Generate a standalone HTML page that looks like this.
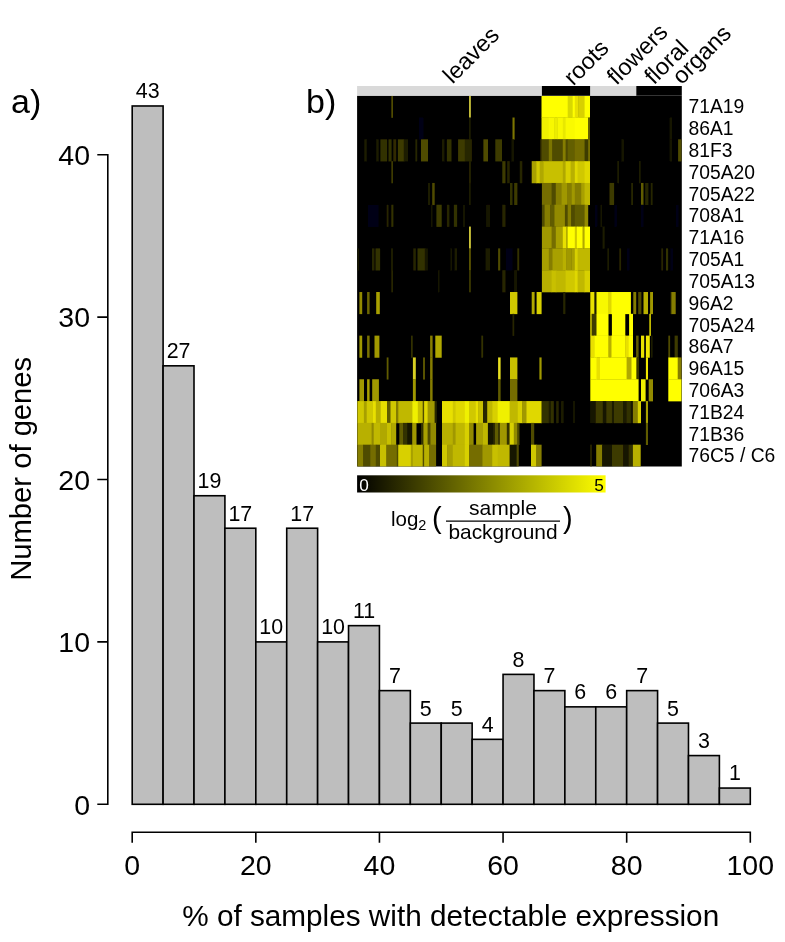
<!DOCTYPE html>
<html lang="en"><head><meta charset="utf-8"><title>Figure</title>
<style>
html,body{margin:0;padding:0;background:#fff;}
body{width:785px;height:942px;overflow:hidden;}
svg{display:block;}
text{font-family:"Liberation Sans", Arial, Helvetica, sans-serif;fill:#000;}
</style></head><body>
<svg width="785" height="942" viewBox="0 0 785 942">
<rect x="0" y="0" width="785" height="942" fill="#fff"/>

<g fill="#bebebe" stroke="#000" stroke-width="1.6" stroke-linejoin="miter">
<rect x="132.20" y="105.98" width="30.90" height="698.32"/>
<rect x="163.10" y="365.82" width="30.90" height="438.48"/>
<rect x="194.01" y="495.74" width="30.90" height="308.56"/>
<rect x="224.91" y="528.22" width="30.90" height="276.08"/>
<rect x="255.82" y="641.90" width="30.90" height="162.40"/>
<rect x="286.72" y="528.22" width="30.90" height="276.08"/>
<rect x="317.63" y="641.90" width="30.90" height="162.40"/>
<rect x="348.53" y="625.66" width="30.90" height="178.64"/>
<rect x="379.44" y="690.62" width="30.90" height="113.68"/>
<rect x="410.34" y="723.10" width="30.90" height="81.20"/>
<rect x="441.25" y="723.10" width="30.90" height="81.20"/>
<rect x="472.15" y="739.34" width="30.90" height="64.96"/>
<rect x="503.06" y="674.38" width="30.90" height="129.92"/>
<rect x="533.96" y="690.62" width="30.90" height="113.68"/>
<rect x="564.87" y="706.86" width="30.90" height="97.44"/>
<rect x="595.77" y="706.86" width="30.90" height="97.44"/>
<rect x="626.68" y="690.62" width="30.90" height="113.68"/>
<rect x="657.58" y="723.10" width="30.90" height="81.20"/>
<rect x="688.49" y="755.58" width="30.90" height="48.72"/>
<rect x="719.39" y="788.06" width="30.90" height="16.24"/>
</g>
<g font-size="21.4" text-anchor="middle">
<text x="147.65" y="98.38">43</text>
<text x="178.56" y="358.22">27</text>
<text x="209.46" y="488.14">19</text>
<text x="240.37" y="520.62">17</text>
<text x="271.27" y="634.30">10</text>
<text x="302.18" y="520.62">17</text>
<text x="333.08" y="634.30">10</text>
<text x="363.99" y="618.06">11</text>
<text x="394.89" y="683.02">7</text>
<text x="425.80" y="715.50">5</text>
<text x="456.70" y="715.50">5</text>
<text x="487.61" y="731.74">4</text>
<text x="518.51" y="666.78">8</text>
<text x="549.42" y="683.02">7</text>
<text x="580.32" y="699.26">6</text>
<text x="611.23" y="699.26">6</text>
<text x="642.13" y="683.02">7</text>
<text x="673.04" y="715.50">5</text>
<text x="703.94" y="747.98">3</text>
<text x="734.85" y="780.46">1</text>
</g>
<path d="M97.3 804.30H107.8V154.70H97.3M97.3 641.90H107.8M97.3 479.50H107.8M97.3 317.10H107.8" fill="none" stroke="#000" stroke-width="1.6"/>
<g font-size="28.5" text-anchor="end">
<text x="90" y="814.50">0</text>
<text x="90" y="652.10">10</text>
<text x="90" y="489.70">20</text>
<text x="90" y="327.30">30</text>
<text x="90" y="164.90">40</text>
</g>
<path d="M132.20 842.7V832.2H750.30V842.7M255.82 832.2V842.7M379.44 832.2V842.7M503.06 832.2V842.7M626.68 832.2V842.7" fill="none" stroke="#000" stroke-width="1.6"/>
<g font-size="28.5" text-anchor="middle">
<text x="132.20" y="874.5">0</text>
<text x="255.82" y="874.5">20</text>
<text x="379.44" y="874.5">40</text>
<text x="503.06" y="874.5">60</text>
<text x="626.68" y="874.5">80</text>
<text x="750.30" y="874.5">100</text>
</g>
<text x="182.2" y="926" font-size="29.8" textLength="537" lengthAdjust="spacingAndGlyphs">% of samples with detectable expression</text>
<text transform="translate(30.8 468.8) rotate(-90)" font-size="29.5" text-anchor="middle" textLength="224" lengthAdjust="spacingAndGlyphs">Number of genes</text>
<text x="11" y="113" font-size="34">a)</text>
<text x="306" y="113" font-size="34">b)</text>
<rect x="357.1" y="95.7" width="324.70" height="370.80" fill="#000"/>
<defs><clipPath id="hc"><rect x="357.1" y="95.7" width="324.70" height="370.80"/></clipPath><filter id="hb" x="-2%" y="-2%" width="104%" height="104%"><feGaussianBlur stdDeviation="0.75 0.4"/></filter></defs>
<g clip-path="url(#hc)"><g filter="url(#hb)">
<rect x="391.3" y="95.70" width="1.7" height="22.11" fill="#504b00"/>
<rect x="469.1" y="95.70" width="1.7" height="22.11" fill="#d8d040"/>
<rect x="541.5" y="95.70" width="26.7" height="22.11" fill="#ffff00"/>
<rect x="567.7" y="95.70" width="5.4" height="22.11" fill="#d8d800"/>
<rect x="572.7" y="95.70" width="2.6" height="22.11" fill="#ffff00"/>
<rect x="574.8" y="95.70" width="4.0" height="22.11" fill="#e8e000"/>
<rect x="578.3" y="95.70" width="6.8" height="22.11" fill="#d8d000"/>
<rect x="584.6" y="95.70" width="5.4" height="22.11" fill="#ffff00"/>
<rect x="418.9" y="117.51" width="4.6" height="22.11" fill="#000015"/>
<rect x="469.1" y="117.51" width="1.7" height="22.11" fill="#1d1c00"/>
<rect x="512.5" y="117.51" width="2.1" height="22.11" fill="#7b7400"/>
<rect x="541.5" y="117.51" width="7.8" height="22.11" fill="#f0f000"/>
<rect x="548.8" y="117.51" width="6.1" height="22.11" fill="#f8f800"/>
<rect x="554.4" y="117.51" width="3.3" height="22.11" fill="#ecec00"/>
<rect x="557.2" y="117.51" width="6.1" height="22.11" fill="#f8f800"/>
<rect x="562.8" y="117.51" width="3.3" height="22.11" fill="#e8e800"/>
<rect x="565.6" y="117.51" width="9.6" height="22.11" fill="#fafa00"/>
<rect x="574.8" y="117.51" width="13.8" height="22.11" fill="#ffff00"/>
<rect x="588.1" y="117.51" width="1.9" height="22.11" fill="#615b00"/>
<rect x="669.7" y="117.51" width="2.5" height="22.11" fill="#151400"/>
<rect x="364.3" y="139.32" width="2.5" height="22.11" fill="#1d1c00"/>
<rect x="376.2" y="139.32" width="2.5" height="22.11" fill="#1d1c00"/>
<rect x="380.4" y="139.32" width="6.7" height="22.11" fill="#333000"/>
<rect x="388.5" y="139.32" width="3.1" height="22.11" fill="#333000"/>
<rect x="393.3" y="139.32" width="2.9" height="22.11" fill="#302c00"/>
<rect x="397.9" y="139.32" width="6.4" height="22.11" fill="#3e3a00"/>
<rect x="403.8" y="139.32" width="4.3" height="22.11" fill="#1d1c00"/>
<rect x="415.4" y="139.32" width="1.8" height="22.11" fill="#282500"/>
<rect x="421.0" y="139.32" width="7.0" height="22.11" fill="#504b00"/>
<rect x="442.0" y="139.32" width="2.5" height="22.11" fill="#1d1c00"/>
<rect x="446.9" y="139.32" width="4.6" height="22.11" fill="#333000"/>
<rect x="458.1" y="139.32" width="7.1" height="22.11" fill="#3e3a00"/>
<rect x="464.8" y="139.32" width="7.1" height="22.11" fill="#282500"/>
<rect x="483.4" y="139.32" width="4.6" height="22.11" fill="#504b00"/>
<rect x="495.3" y="139.32" width="6.7" height="22.11" fill="#3e3b00"/>
<rect x="511.4" y="139.32" width="2.5" height="22.11" fill="#191800"/>
<rect x="540.1" y="139.32" width="1.9" height="22.11" fill="#282500"/>
<rect x="541.5" y="139.32" width="7.8" height="22.11" fill="#504b00"/>
<rect x="548.8" y="139.32" width="4.0" height="22.11" fill="#7b7400"/>
<rect x="552.3" y="139.32" width="11.0" height="22.11" fill="#504b00"/>
<rect x="562.8" y="139.32" width="3.3" height="22.11" fill="#857d00"/>
<rect x="565.6" y="139.32" width="2.6" height="22.11" fill="#504b00"/>
<rect x="567.7" y="139.32" width="7.5" height="22.11" fill="#645e00"/>
<rect x="574.8" y="139.32" width="10.3" height="22.11" fill="#746d00"/>
<rect x="584.6" y="139.32" width="4.0" height="22.11" fill="#3e3a00"/>
<rect x="588.1" y="139.32" width="1.9" height="22.11" fill="#746d00"/>
<rect x="621.4" y="139.32" width="2.5" height="22.11" fill="#191800"/>
<rect x="669.7" y="139.32" width="2.5" height="22.11" fill="#151400"/>
<rect x="678.1" y="139.32" width="3.5" height="22.11" fill="#504b00"/>
<rect x="391.3" y="161.14" width="1.7" height="22.11" fill="#3e3a00"/>
<rect x="469.1" y="161.14" width="1.7" height="22.11" fill="#282500"/>
<rect x="502.3" y="161.14" width="3.2" height="22.11" fill="#3e3b00"/>
<rect x="507.2" y="161.14" width="2.5" height="22.11" fill="#282500"/>
<rect x="519.8" y="161.14" width="2.5" height="22.11" fill="#282500"/>
<rect x="531.7" y="161.14" width="5.0" height="22.11" fill="#a8a000"/>
<rect x="536.2" y="161.14" width="4.0" height="22.11" fill="#d0c800"/>
<rect x="539.7" y="161.14" width="4.0" height="22.11" fill="#b0a800"/>
<rect x="543.2" y="161.14" width="20.1" height="22.11" fill="#c8c000"/>
<rect x="562.8" y="161.14" width="3.3" height="22.11" fill="#b0a800"/>
<rect x="565.6" y="161.14" width="5.4" height="22.11" fill="#d8d000"/>
<rect x="570.6" y="161.14" width="4.7" height="22.11" fill="#b8b000"/>
<rect x="574.8" y="161.14" width="3.3" height="22.11" fill="#e0d800"/>
<rect x="577.6" y="161.14" width="7.5" height="22.11" fill="#d0c800"/>
<rect x="584.6" y="161.14" width="5.4" height="22.11" fill="#e0d800"/>
<rect x="617.2" y="161.14" width="1.8" height="22.11" fill="#1d1c00"/>
<rect x="638.9" y="161.14" width="1.8" height="22.11" fill="#1d1c00"/>
<rect x="428.0" y="182.95" width="2.2" height="22.11" fill="#1d1c00"/>
<rect x="432.2" y="182.95" width="2.5" height="22.11" fill="#504b00"/>
<rect x="469.1" y="182.95" width="1.7" height="22.11" fill="#1d1c00"/>
<rect x="510.0" y="182.95" width="2.5" height="22.11" fill="#333000"/>
<rect x="514.2" y="182.95" width="3.2" height="22.11" fill="#3e3b00"/>
<rect x="541.9" y="182.95" width="10.2" height="22.11" fill="#746d00"/>
<rect x="551.6" y="182.95" width="4.7" height="22.11" fill="#504b00"/>
<rect x="555.8" y="182.95" width="6.1" height="22.11" fill="#857d00"/>
<rect x="561.4" y="182.95" width="6.1" height="22.11" fill="#a09800"/>
<rect x="567.0" y="182.95" width="4.7" height="22.11" fill="#857d00"/>
<rect x="571.3" y="182.95" width="4.0" height="22.11" fill="#a09800"/>
<rect x="574.8" y="182.95" width="6.8" height="22.11" fill="#857d00"/>
<rect x="581.1" y="182.95" width="4.0" height="22.11" fill="#a8a000"/>
<rect x="584.6" y="182.95" width="5.4" height="22.11" fill="#c0b800"/>
<rect x="609.5" y="182.95" width="4.6" height="22.11" fill="#3e3b00"/>
<rect x="631.2" y="182.95" width="1.8" height="22.11" fill="#282500"/>
<rect x="641.0" y="182.95" width="2.5" height="22.11" fill="#615b00"/>
<rect x="645.2" y="182.95" width="3.2" height="22.11" fill="#282500"/>
<rect x="650.8" y="182.95" width="1.8" height="22.11" fill="#282500"/>
<rect x="367.8" y="204.76" width="10.9" height="22.11" fill="#000015"/>
<rect x="386.7" y="204.76" width="1.8" height="22.11" fill="#282500"/>
<rect x="391.3" y="204.76" width="2.1" height="22.11" fill="#333000"/>
<rect x="430.8" y="204.76" width="1.8" height="22.11" fill="#191800"/>
<rect x="436.4" y="204.76" width="5.3" height="22.11" fill="#3e3b00"/>
<rect x="446.9" y="204.76" width="2.5" height="22.11" fill="#282500"/>
<rect x="453.9" y="204.76" width="3.2" height="22.11" fill="#333000"/>
<rect x="463.1" y="204.76" width="1.8" height="22.11" fill="#191800"/>
<rect x="486.2" y="204.76" width="3.9" height="22.11" fill="#191800"/>
<rect x="502.3" y="204.76" width="3.2" height="22.11" fill="#282500"/>
<rect x="541.9" y="204.76" width="3.2" height="22.11" fill="#504b00"/>
<rect x="544.6" y="204.76" width="6.1" height="22.11" fill="#857d00"/>
<rect x="550.2" y="204.76" width="4.7" height="22.11" fill="#615b00"/>
<rect x="554.4" y="204.76" width="11.0" height="22.11" fill="#928a00"/>
<rect x="564.9" y="204.76" width="3.3" height="22.11" fill="#504b00"/>
<rect x="567.7" y="204.76" width="4.0" height="22.11" fill="#857d00"/>
<rect x="571.3" y="204.76" width="4.0" height="22.11" fill="#504b00"/>
<rect x="574.8" y="204.76" width="10.3" height="22.11" fill="#615b00"/>
<rect x="584.6" y="204.76" width="3.6" height="22.11" fill="#928a00"/>
<rect x="594.8" y="204.76" width="2.5" height="22.11" fill="#000015"/>
<rect x="600.4" y="204.76" width="1.8" height="22.11" fill="#191800"/>
<rect x="614.4" y="204.76" width="2.5" height="22.11" fill="#000015"/>
<rect x="641.0" y="204.76" width="2.5" height="22.11" fill="#000015"/>
<rect x="676.0" y="204.76" width="2.5" height="22.11" fill="#000015"/>
<rect x="469.1" y="226.57" width="1.7" height="22.11" fill="#e0d840"/>
<rect x="541.9" y="226.57" width="10.2" height="22.11" fill="#a09800"/>
<rect x="551.6" y="226.57" width="4.7" height="22.11" fill="#746d00"/>
<rect x="555.8" y="226.57" width="7.5" height="22.11" fill="#a8a000"/>
<rect x="562.8" y="226.57" width="4.0" height="22.11" fill="#e8e000"/>
<rect x="566.3" y="226.57" width="1.9" height="22.11" fill="#b0a800"/>
<rect x="567.7" y="226.57" width="7.5" height="22.11" fill="#ffff00"/>
<rect x="574.8" y="226.57" width="2.6" height="22.11" fill="#d0c800"/>
<rect x="576.9" y="226.57" width="6.1" height="22.11" fill="#ffff00"/>
<rect x="582.5" y="226.57" width="2.6" height="22.11" fill="#b0a800"/>
<rect x="584.6" y="226.57" width="5.4" height="22.11" fill="#ffff00"/>
<rect x="602.5" y="226.57" width="2.1" height="22.11" fill="#1d1c00"/>
<rect x="357.3" y="248.38" width="1.8" height="22.11" fill="#151400"/>
<rect x="372.0" y="248.38" width="2.5" height="22.11" fill="#282500"/>
<rect x="375.5" y="248.38" width="4.6" height="22.11" fill="#333000"/>
<rect x="390.9" y="248.38" width="2.1" height="22.11" fill="#1d1c00"/>
<rect x="413.3" y="248.38" width="2.5" height="22.11" fill="#282500"/>
<rect x="417.5" y="248.38" width="7.8" height="22.11" fill="#333000"/>
<rect x="424.8" y="248.38" width="2.9" height="22.11" fill="#191800"/>
<rect x="450.4" y="248.38" width="1.8" height="22.11" fill="#191800"/>
<rect x="454.6" y="248.38" width="2.5" height="22.11" fill="#1d1c00"/>
<rect x="469.1" y="248.38" width="1.7" height="22.11" fill="#615b00"/>
<rect x="485.5" y="248.38" width="4.6" height="22.11" fill="#1d1c00"/>
<rect x="498.1" y="248.38" width="2.1" height="22.11" fill="#504b00"/>
<rect x="505.8" y="248.38" width="6.7" height="22.11" fill="#000015"/>
<rect x="517.3" y="248.38" width="1.9" height="22.11" fill="#333000"/>
<rect x="541.9" y="248.38" width="7.4" height="22.11" fill="#a8a000"/>
<rect x="548.8" y="248.38" width="4.0" height="22.11" fill="#857d00"/>
<rect x="552.3" y="248.38" width="11.0" height="22.11" fill="#a8a000"/>
<rect x="562.8" y="248.38" width="4.0" height="22.11" fill="#b8b000"/>
<rect x="566.3" y="248.38" width="5.4" height="22.11" fill="#a09800"/>
<rect x="571.3" y="248.38" width="4.0" height="22.11" fill="#a8a000"/>
<rect x="574.8" y="248.38" width="3.3" height="22.11" fill="#d8d000"/>
<rect x="577.6" y="248.38" width="12.4" height="22.11" fill="#c0b800"/>
<rect x="607.4" y="248.38" width="1.8" height="22.11" fill="#1d1c00"/>
<rect x="619.3" y="248.38" width="1.8" height="22.11" fill="#282500"/>
<rect x="627.0" y="248.38" width="2.5" height="22.11" fill="#000015"/>
<rect x="661.3" y="248.38" width="1.8" height="22.11" fill="#282500"/>
<rect x="666.0" y="248.38" width="2.1" height="22.11" fill="#333000"/>
<rect x="670.4" y="248.38" width="2.5" height="22.11" fill="#000015"/>
<rect x="391.3" y="270.19" width="1.7" height="22.11" fill="#282500"/>
<rect x="437.8" y="270.19" width="1.8" height="22.11" fill="#151400"/>
<rect x="469.1" y="270.19" width="1.7" height="22.11" fill="#3e3b00"/>
<rect x="502.3" y="270.19" width="3.2" height="22.11" fill="#282500"/>
<rect x="514.2" y="270.19" width="2.8" height="22.11" fill="#191800"/>
<rect x="541.9" y="270.19" width="10.2" height="22.11" fill="#b8b000"/>
<rect x="551.6" y="270.19" width="4.7" height="22.11" fill="#c8c000"/>
<rect x="555.8" y="270.19" width="10.3" height="22.11" fill="#c0b800"/>
<rect x="565.6" y="270.19" width="9.6" height="22.11" fill="#d0c800"/>
<rect x="574.8" y="270.19" width="3.3" height="22.11" fill="#e0d800"/>
<rect x="577.6" y="270.19" width="7.5" height="22.11" fill="#c0b800"/>
<rect x="584.6" y="270.19" width="5.4" height="22.11" fill="#d8d000"/>
<rect x="359.4" y="292.01" width="2.8" height="22.11" fill="#928a00"/>
<rect x="367.1" y="292.01" width="2.5" height="22.11" fill="#6c6600"/>
<rect x="376.2" y="292.01" width="3.6" height="22.11" fill="#a8a000"/>
<rect x="510.0" y="292.01" width="7.4" height="22.11" fill="#d0c800"/>
<rect x="531.7" y="292.01" width="2.9" height="22.11" fill="#b0a800"/>
<rect x="536.6" y="292.01" width="5.0" height="22.11" fill="#d8d000"/>
<rect x="563.2" y="292.01" width="2.2" height="22.11" fill="#282500"/>
<rect x="590.3" y="292.01" width="4.6" height="22.11" fill="#e8e000"/>
<rect x="594.4" y="292.01" width="2.6" height="22.11" fill="#1d1c00"/>
<rect x="596.5" y="292.01" width="12.4" height="22.11" fill="#f8f800"/>
<rect x="608.4" y="292.01" width="3.6" height="22.11" fill="#e0d800"/>
<rect x="611.5" y="292.01" width="19.4" height="22.11" fill="#ffff00"/>
<rect x="633.3" y="292.01" width="2.9" height="22.11" fill="#857d00"/>
<rect x="638.2" y="292.01" width="3.2" height="22.11" fill="#504b00"/>
<rect x="643.5" y="292.01" width="4.5" height="22.11" fill="#b8b000"/>
<rect x="650.1" y="292.01" width="2.9" height="22.11" fill="#a09800"/>
<rect x="670.4" y="292.01" width="1.5" height="22.11" fill="#282500"/>
<rect x="671.4" y="292.01" width="4.3" height="22.11" fill="#857d00"/>
<rect x="512.5" y="313.82" width="1.7" height="22.11" fill="#282500"/>
<rect x="590.3" y="313.82" width="1.8" height="22.11" fill="#e8e000"/>
<rect x="591.6" y="313.82" width="5.4" height="22.11" fill="#3e3b00"/>
<rect x="596.5" y="313.82" width="12.0" height="22.11" fill="#ffff00"/>
<rect x="611.9" y="313.82" width="13.4" height="22.11" fill="#ffff00"/>
<rect x="629.1" y="313.82" width="3.9" height="22.11" fill="#ffff00"/>
<rect x="649.4" y="313.82" width="1.4" height="22.11" fill="#f0e800"/>
<rect x="359.4" y="335.63" width="2.8" height="22.11" fill="#a09800"/>
<rect x="367.1" y="335.63" width="2.5" height="22.11" fill="#787100"/>
<rect x="374.5" y="335.63" width="4.9" height="22.11" fill="#a09800"/>
<rect x="411.2" y="335.63" width="1.4" height="22.11" fill="#3e3b00"/>
<rect x="430.1" y="335.63" width="2.5" height="22.11" fill="#857d00"/>
<rect x="435.3" y="335.63" width="6.4" height="22.11" fill="#b0a800"/>
<rect x="481.3" y="335.63" width="1.8" height="22.11" fill="#333000"/>
<rect x="590.3" y="335.63" width="4.6" height="22.11" fill="#e8e000"/>
<rect x="594.4" y="335.63" width="14.5" height="22.11" fill="#ffff00"/>
<rect x="608.4" y="335.63" width="3.6" height="22.11" fill="#b8b000"/>
<rect x="611.5" y="335.63" width="14.2" height="22.11" fill="#ffff00"/>
<rect x="625.2" y="335.63" width="4.0" height="22.11" fill="#e8e000"/>
<rect x="628.7" y="335.63" width="4.3" height="22.11" fill="#ffff00"/>
<rect x="636.1" y="335.63" width="2.5" height="22.11" fill="#615b00"/>
<rect x="641.0" y="335.63" width="3.2" height="22.11" fill="#e8e000"/>
<rect x="645.9" y="335.63" width="3.9" height="22.11" fill="#f0e800"/>
<rect x="650.8" y="335.63" width="1.8" height="22.11" fill="#1d1c00"/>
<rect x="668.3" y="335.63" width="1.8" height="22.11" fill="#504b00"/>
<rect x="674.6" y="335.63" width="3.2" height="22.11" fill="#3e3b00"/>
<rect x="386.7" y="357.44" width="1.8" height="22.11" fill="#615b00"/>
<rect x="412.9" y="357.44" width="2.9" height="22.11" fill="#d8d020"/>
<rect x="423.1" y="357.44" width="1.8" height="22.11" fill="#615b00"/>
<rect x="430.1" y="357.44" width="2.5" height="22.11" fill="#857d00"/>
<rect x="498.1" y="357.44" width="2.5" height="22.11" fill="#e8e020"/>
<rect x="510.0" y="357.44" width="7.4" height="22.11" fill="#c8c000"/>
<rect x="539.4" y="357.44" width="2.2" height="22.11" fill="#a09800"/>
<rect x="590.3" y="357.44" width="6.7" height="22.11" fill="#ffff00"/>
<rect x="596.5" y="357.44" width="4.0" height="22.11" fill="#e8e000"/>
<rect x="600.0" y="357.44" width="27.1" height="22.11" fill="#ffff00"/>
<rect x="626.6" y="357.44" width="5.4" height="22.11" fill="#b0a800"/>
<rect x="631.5" y="357.44" width="5.4" height="22.11" fill="#ffff00"/>
<rect x="636.4" y="357.44" width="2.6" height="22.11" fill="#383400"/>
<rect x="645.9" y="357.44" width="2.1" height="22.11" fill="#f0e800"/>
<rect x="668.3" y="357.44" width="9.9" height="22.11" fill="#ffff00"/>
<rect x="677.7" y="357.44" width="3.9" height="22.11" fill="#857d00"/>
<rect x="359.4" y="379.25" width="4.6" height="22.11" fill="#a09800"/>
<rect x="367.1" y="379.25" width="2.5" height="22.11" fill="#a8a000"/>
<rect x="372.2" y="379.25" width="6.7" height="22.11" fill="#a09800"/>
<rect x="412.9" y="379.25" width="2.9" height="22.11" fill="#a09800"/>
<rect x="430.1" y="379.25" width="2.5" height="22.11" fill="#857d00"/>
<rect x="498.1" y="379.25" width="2.5" height="22.11" fill="#615b00"/>
<rect x="510.0" y="379.25" width="7.4" height="22.11" fill="#746d00"/>
<rect x="590.3" y="379.25" width="48.3" height="22.11" fill="#ffff00"/>
<rect x="641.0" y="379.25" width="4.6" height="22.11" fill="#f0f000"/>
<rect x="648.7" y="379.25" width="4.3" height="22.11" fill="#928a00"/>
<rect x="668.3" y="379.25" width="13.3" height="22.11" fill="#ffff00"/>
<rect x="357.3" y="401.06" width="7.1" height="22.11" fill="#d0c800"/>
<rect x="363.9" y="401.06" width="3.3" height="22.11" fill="#a8a000"/>
<rect x="366.7" y="401.06" width="6.8" height="22.11" fill="#d0c800"/>
<rect x="373.0" y="401.06" width="3.3" height="22.11" fill="#e8e000"/>
<rect x="375.8" y="401.06" width="5.4" height="22.11" fill="#b8b000"/>
<rect x="380.7" y="401.06" width="6.8" height="22.11" fill="#e8e000"/>
<rect x="387.0" y="401.06" width="4.0" height="22.11" fill="#615b00"/>
<rect x="390.5" y="401.06" width="6.1" height="22.11" fill="#d0c800"/>
<rect x="396.1" y="401.06" width="2.6" height="22.11" fill="#857d00"/>
<rect x="398.2" y="401.06" width="14.5" height="22.11" fill="#c0b800"/>
<rect x="412.2" y="401.06" width="6.1" height="22.11" fill="#f0f000"/>
<rect x="417.8" y="401.06" width="5.4" height="22.11" fill="#c8c000"/>
<rect x="422.7" y="401.06" width="1.9" height="22.11" fill="#504b00"/>
<rect x="424.1" y="401.06" width="4.0" height="22.11" fill="#e0d800"/>
<rect x="427.6" y="401.06" width="7.5" height="22.11" fill="#a09800"/>
<rect x="434.6" y="401.06" width="2.2" height="22.11" fill="#282500"/>
<rect x="442.0" y="401.06" width="11.3" height="22.11" fill="#e8e000"/>
<rect x="452.8" y="401.06" width="3.3" height="22.11" fill="#d0c800"/>
<rect x="455.6" y="401.06" width="9.6" height="22.11" fill="#e0d800"/>
<rect x="464.8" y="401.06" width="4.7" height="22.11" fill="#f0f000"/>
<rect x="469.0" y="401.06" width="6.8" height="22.11" fill="#d0c800"/>
<rect x="475.3" y="401.06" width="3.3" height="22.11" fill="#e8e000"/>
<rect x="478.1" y="401.06" width="5.4" height="22.11" fill="#c8c000"/>
<rect x="483.0" y="401.06" width="4.7" height="22.11" fill="#282500"/>
<rect x="487.2" y="401.06" width="5.4" height="22.11" fill="#c0b800"/>
<rect x="492.1" y="401.06" width="6.1" height="22.11" fill="#d8d000"/>
<rect x="497.7" y="401.06" width="12.4" height="22.11" fill="#f0f000"/>
<rect x="509.6" y="401.06" width="8.2" height="22.11" fill="#c0b800"/>
<rect x="517.3" y="401.06" width="5.4" height="22.11" fill="#d8d000"/>
<rect x="522.2" y="401.06" width="4.7" height="22.11" fill="#a09800"/>
<rect x="526.4" y="401.06" width="15.6" height="22.11" fill="#e0d800"/>
<rect x="541.5" y="401.06" width="7.8" height="22.11" fill="#333000"/>
<rect x="548.8" y="401.06" width="2.6" height="22.11" fill="#1d1c00"/>
<rect x="550.9" y="401.06" width="2.9" height="22.11" fill="#333000"/>
<rect x="556.2" y="401.06" width="2.5" height="22.11" fill="#282500"/>
<rect x="561.1" y="401.06" width="2.5" height="22.11" fill="#1d1c00"/>
<rect x="573.1" y="401.06" width="1.8" height="22.11" fill="#191800"/>
<rect x="590.3" y="401.06" width="6.0" height="22.11" fill="#191800"/>
<rect x="595.8" y="401.06" width="7.5" height="22.11" fill="#3e3b00"/>
<rect x="602.8" y="401.06" width="4.0" height="22.11" fill="#191800"/>
<rect x="606.3" y="401.06" width="6.1" height="22.11" fill="#3e3b00"/>
<rect x="611.9" y="401.06" width="2.6" height="22.11" fill="#1d1c00"/>
<rect x="614.0" y="401.06" width="9.6" height="22.11" fill="#3e3b00"/>
<rect x="623.1" y="401.06" width="4.0" height="22.11" fill="#1d1c00"/>
<rect x="626.6" y="401.06" width="4.7" height="22.11" fill="#333000"/>
<rect x="630.8" y="401.06" width="2.6" height="22.11" fill="#151400"/>
<rect x="632.9" y="401.06" width="5.4" height="22.11" fill="#857d00"/>
<rect x="637.8" y="401.06" width="3.2" height="22.11" fill="#d8d000"/>
<rect x="645.9" y="401.06" width="2.1" height="22.11" fill="#a8a000"/>
<rect x="357.3" y="422.88" width="14.8" height="22.11" fill="#b8b000"/>
<rect x="371.6" y="422.88" width="2.6" height="22.11" fill="#928a00"/>
<rect x="373.7" y="422.88" width="6.8" height="22.11" fill="#c0b800"/>
<rect x="380.0" y="422.88" width="7.5" height="22.11" fill="#b0a800"/>
<rect x="387.0" y="422.88" width="4.7" height="22.11" fill="#c8c000"/>
<rect x="391.2" y="422.88" width="5.0" height="22.11" fill="#b0a800"/>
<rect x="399.3" y="422.88" width="4.3" height="22.11" fill="#615b00"/>
<rect x="403.1" y="422.88" width="4.7" height="22.11" fill="#333000"/>
<rect x="407.3" y="422.88" width="5.4" height="22.11" fill="#151400"/>
<rect x="412.2" y="422.88" width="4.3" height="22.11" fill="#a09800"/>
<rect x="421.0" y="422.88" width="2.9" height="22.11" fill="#333000"/>
<rect x="423.4" y="422.88" width="4.7" height="22.11" fill="#a8a000"/>
<rect x="427.6" y="422.88" width="3.3" height="22.11" fill="#504b00"/>
<rect x="430.4" y="422.88" width="5.7" height="22.11" fill="#928a00"/>
<rect x="442.0" y="422.88" width="11.3" height="22.11" fill="#b8b000"/>
<rect x="452.8" y="422.88" width="3.3" height="22.11" fill="#a09800"/>
<rect x="455.6" y="422.88" width="9.6" height="22.11" fill="#c0b800"/>
<rect x="464.8" y="422.88" width="4.7" height="22.11" fill="#d8d000"/>
<rect x="469.0" y="422.88" width="4.6" height="22.11" fill="#928a00"/>
<rect x="476.1" y="422.88" width="7.4" height="22.11" fill="#a8a000"/>
<rect x="483.0" y="422.88" width="5.4" height="22.11" fill="#c0b800"/>
<rect x="487.9" y="422.88" width="5.4" height="22.11" fill="#151400"/>
<rect x="492.8" y="422.88" width="2.6" height="22.11" fill="#282500"/>
<rect x="494.9" y="422.88" width="4.0" height="22.11" fill="#615b00"/>
<rect x="498.4" y="422.88" width="1.9" height="22.11" fill="#282500"/>
<rect x="499.8" y="422.88" width="7.5" height="22.11" fill="#a09800"/>
<rect x="506.8" y="422.88" width="3.3" height="22.11" fill="#333000"/>
<rect x="509.6" y="422.88" width="4.7" height="22.11" fill="#d8d000"/>
<rect x="513.8" y="422.88" width="4.0" height="22.11" fill="#928a00"/>
<rect x="517.3" y="422.88" width="2.2" height="22.11" fill="#504b00"/>
<rect x="531.0" y="422.88" width="3.2" height="22.11" fill="#504b00"/>
<rect x="645.9" y="422.88" width="2.1" height="22.11" fill="#615b00"/>
<rect x="357.3" y="444.69" width="6.4" height="22.11" fill="#857d00"/>
<rect x="363.2" y="444.69" width="7.5" height="22.11" fill="#504b00"/>
<rect x="370.2" y="444.69" width="6.1" height="22.11" fill="#746d00"/>
<rect x="375.8" y="444.69" width="4.7" height="22.11" fill="#504b00"/>
<rect x="380.0" y="444.69" width="6.8" height="22.11" fill="#c8c000"/>
<rect x="386.3" y="444.69" width="11.0" height="22.11" fill="#746d00"/>
<rect x="396.8" y="444.69" width="1.9" height="22.11" fill="#504b00"/>
<rect x="398.2" y="444.69" width="13.1" height="22.11" fill="#d8d000"/>
<rect x="410.8" y="444.69" width="2.6" height="22.11" fill="#a8a000"/>
<rect x="412.9" y="444.69" width="10.3" height="22.11" fill="#c0b800"/>
<rect x="422.7" y="444.69" width="1.9" height="22.11" fill="#504b00"/>
<rect x="424.1" y="444.69" width="5.4" height="22.11" fill="#b8b000"/>
<rect x="429.0" y="444.69" width="7.1" height="22.11" fill="#746d00"/>
<rect x="442.0" y="444.69" width="5.7" height="22.11" fill="#d0c800"/>
<rect x="447.2" y="444.69" width="6.1" height="22.11" fill="#a8a000"/>
<rect x="452.8" y="444.69" width="12.4" height="22.11" fill="#c0b800"/>
<rect x="464.8" y="444.69" width="4.7" height="22.11" fill="#d8d000"/>
<rect x="469.0" y="444.69" width="13.8" height="22.11" fill="#746d00"/>
<rect x="482.3" y="444.69" width="10.3" height="22.11" fill="#a09800"/>
<rect x="492.1" y="444.69" width="6.1" height="22.11" fill="#c8c000"/>
<rect x="497.7" y="444.69" width="12.4" height="22.11" fill="#c0b800"/>
<rect x="509.6" y="444.69" width="7.5" height="22.11" fill="#151400"/>
<rect x="516.6" y="444.69" width="2.2" height="22.11" fill="#504b00"/>
<rect x="531.0" y="444.69" width="5.7" height="22.11" fill="#d0c800"/>
<rect x="536.2" y="444.69" width="5.4" height="22.11" fill="#857d00"/>
<rect x="590.3" y="444.69" width="1.4" height="22.11" fill="#333000"/>
<rect x="596.2" y="444.69" width="6.4" height="22.11" fill="#857d00"/>
<rect x="602.1" y="444.69" width="10.3" height="22.11" fill="#151400"/>
<rect x="611.9" y="444.69" width="11.7" height="22.11" fill="#3e3b00"/>
<rect x="623.1" y="444.69" width="6.1" height="22.11" fill="#191800"/>
<rect x="628.7" y="444.69" width="4.7" height="22.11" fill="#333000"/>
<rect x="632.9" y="444.69" width="7.8" height="22.11" fill="#b8b000"/>
</g></g>
<rect x="357.1" y="86" width="184.80" height="9.7" fill="#d9d9d9"/>
<rect x="590.1" y="86" width="46.2" height="9.7" fill="#d9d9d9"/>
<rect x="541.9" y="86" width="48.2" height="9.7" fill="#000"/>
<rect x="636.3" y="86" width="45.50" height="9.7" fill="#000"/>
<g font-size="19.3">
<text x="688.5" y="113.41">71A19</text>
<text x="688.5" y="135.22">86A1</text>
<text x="688.5" y="157.03">81F3</text>
<text x="688.5" y="178.84">705A20</text>
<text x="688.5" y="200.65">705A22</text>
<text x="688.5" y="222.46">708A1</text>
<text x="688.5" y="244.28">71A16</text>
<text x="688.5" y="266.09">705A1</text>
<text x="688.5" y="287.90">705A13</text>
<text x="688.5" y="309.71">96A2</text>
<text x="688.5" y="331.52">705A24</text>
<text x="688.5" y="353.34">86A7</text>
<text x="688.5" y="375.15">96A15</text>
<text x="688.5" y="396.96">706A3</text>
<text x="688.5" y="418.77">71B24</text>
<text x="688.5" y="440.58">71B36</text>
<text x="688.5" y="462.39">76C5 / C6</text>
</g>
<defs><linearGradient id="cb" x1="0" x2="1" y1="0" y2="0"><stop offset="0" stop-color="#000"/><stop offset="1" stop-color="#ffff00"/></linearGradient></defs>
<rect x="357.1" y="475.3" width="248.5" height="17.2" fill="url(#cb)"/>
<text x="359.3" y="491.3" font-size="17.2" style="fill:#fff">0</text>
<text x="594.3" y="491.3" font-size="17.2">5</text>
<text x="391" y="525.5" font-size="20.5">log<tspan font-size="14.5" dy="4">2</tspan></text>
<text x="432" y="528" font-size="29">(</text>
<text x="563" y="528" font-size="29">)</text>
<text x="503" y="515" font-size="21.1" text-anchor="middle">sample</text>
<path d="M446 521.2H560" stroke="#000" stroke-width="1.2"/>
<text x="503" y="538.5" font-size="20.9" text-anchor="middle">background</text>
<text transform="translate(452.5 84.5) rotate(-45)" font-size="23.5">leaves</text>
<text transform="translate(573.2 86.5) rotate(-45)" font-size="23.5">roots</text>
<text transform="translate(616.5 86) rotate(-45)" font-size="23.5">flowers</text>
<text transform="translate(654 85.5) rotate(-45)" font-size="23.5">floral</text>
<text transform="translate(681.8 85.6) rotate(-45)" font-size="23.5">organs</text>
</svg></body></html>
